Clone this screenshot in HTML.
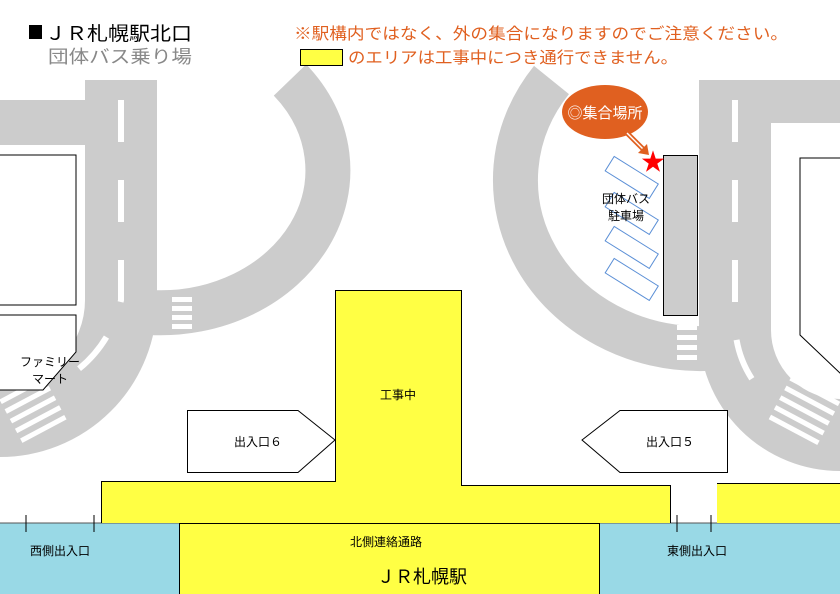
<!DOCTYPE html>
<html><head><meta charset="utf-8"><style>
html,body{margin:0;padding:0;background:#fff}
svg{display:block}
text{font-family:"Liberation Sans","Noto Sans CJK JP",sans-serif}
</style></head><body>
<svg width="840" height="594" viewBox="0 0 840 594" xmlns="http://www.w3.org/2000/svg">
<rect width="840" height="594" fill="#fff"/>
<!-- roads -->
<g fill="none" stroke="#cccccc">
  <rect x="0" y="100" width="90" height="45" fill="#ccc" stroke="none"/>
  <path d="M121,80 V300 A121,121 0 0 1 0,421" stroke-width="72"/>
  <path d="M290,80 A167.5,142.5 0 0 1 150,312.5" stroke-width="45"/>
  <path d="M551.5,80 A184.5,168.5 0 0 0 705,348.5" stroke-width="45"/>
  <rect x="771" y="80" width="69" height="43" fill="#ccc" stroke="none"/>
  <path d="M735,80 V330 A105,105 0 0 0 840,435" stroke-width="72"/>
</g>
<!-- dashes -->
<g stroke="#fff" stroke-width="6" fill="none">
  <path d="M121,80 V300 A121,121 0 0 1 40,390" stroke-dasharray="42,38" stroke-dashoffset="-20"/>
  <path d="M735,80 V320 A105,105 0 0 0 770,400" stroke-dasharray="42,38" stroke-dashoffset="-20"/>
</g>
<!-- crosswalks -->
<g fill="#fff">
  <rect x="172" y="297" width="20" height="5"/><rect x="172" y="306" width="20" height="5"/><rect x="172" y="315" width="20" height="5"/><rect x="172" y="324" width="20" height="5"/>
  <rect x="677" y="325" width="20" height="5"/><rect x="677" y="335" width="20" height="5"/><rect x="677" y="345" width="20" height="5"/><rect x="677" y="355" width="20" height="5"/>
  <g transform="rotate(-28 45 415)"><rect x="12" y="380" width="50" height="5"/><rect x="12" y="391" width="50" height="5"/><rect x="12" y="402" width="50" height="5"/><rect x="12" y="413" width="50" height="5"/><rect x="12" y="424" width="50" height="5"/></g>
  <g transform="rotate(28 800 420)"><rect x="772" y="385" width="55" height="5"/><rect x="772" y="396" width="55" height="5"/><rect x="772" y="407" width="55" height="5"/><rect x="772" y="418" width="55" height="5"/><rect x="772" y="429" width="55" height="5"/></g>
</g>
<!-- buildings -->
<rect x="-2" y="155" width="78" height="150" fill="#fff" stroke="#000" stroke-width="1"/>
<path d="M-2,315 H76 V352 L43,390 H-2 Z" fill="#fff" stroke="#000" stroke-width="1"/>
<text x="50" y="366" font-size="12" text-anchor="middle">ファミリー</text>
<text x="50" y="383" font-size="12" text-anchor="middle">マート</text>
<path d="M842,158 H800 V335 L842,375" fill="#fff" stroke="#000" stroke-width="1"/>
<!-- bus stop -->
<rect x="663.5" y="155.5" width="34" height="160" fill="#ccc" stroke="#000" stroke-width="1"/>
<g fill="none" stroke="#5b8fd6" stroke-width="1">
  <g transform="rotate(32 632 177)"><rect x="606" y="169" width="52" height="17"/></g>
  <g transform="rotate(32 632 213)"><rect x="606" y="205" width="52" height="17"/></g>
  <g transform="rotate(32 632 247)"><rect x="606" y="239" width="52" height="17"/></g>
  <g transform="rotate(32 632 279)"><rect x="606" y="271" width="52" height="17"/></g>
</g>
<text x="626" y="203" font-size="12" text-anchor="middle">団体バス</text>
<text x="626" y="220" font-size="12" text-anchor="middle">駐車場</text>
<ellipse cx="605" cy="112" rx="43" ry="27" fill="#e06020"/>
<text x="605" y="118" font-size="15" fill="#fff" text-anchor="middle">◎集合場所</text>
<path d="M627,133 L645,151" stroke="#e06020" stroke-width="5"/>
<path d="M627,133 L645,151" stroke="#fff" stroke-width="1.5"/>
<path d="M638,153 L649,155 L647,144 Z" fill="#e06020"/>
<text x="653" y="170" font-size="24" fill="#f00" text-anchor="middle">★</text>
<!-- station -->
<rect x="0" y="523" width="840" height="71" fill="#99d9e6"/>
<line x1="0" y1="523" x2="840" y2="523" stroke="#555" stroke-width="1"/>
<path d="M101.5,523 V481.5 H335.5 V290.5 H461.5 V485.5 H670.5 V523" fill="#ffff44" stroke="#000" stroke-width="1"/>
<path d="M842,483.5 H717.5 V523" fill="#ffff44" stroke="#000" stroke-width="1"/>
<rect x="717" y="484" width="123" height="39" fill="#ffff44"/>
<rect x="179.5" y="523.5" width="420" height="72" fill="#ffff44" stroke="#000" stroke-width="1"/>
<text x="398" y="399" font-size="12" text-anchor="middle">工事中</text>
<text x="386" y="546" font-size="12" text-anchor="middle">北側連絡通路</text>
<text x="422" y="583" font-size="18" text-anchor="middle">ＪＲ札幌駅</text>
<g stroke="#000" stroke-width="1"><line x1="26" y1="515" x2="26" y2="532"/><line x1="94" y1="515" x2="94" y2="532"/><line x1="677" y1="515" x2="677" y2="532"/><line x1="711" y1="515" x2="711" y2="532"/></g>
<text x="60" y="555" font-size="12" text-anchor="middle">西側出入口</text>
<text x="697" y="555" font-size="12" text-anchor="middle">東側出入口</text>
<!-- exits -->
<path d="M187.5,410.5 H298 L335,440 L298,472.5 H187.5 Z" fill="#fff" stroke="#000" stroke-width="1"/>
<text x="258" y="446" font-size="12" text-anchor="middle">出入口６</text>
<path d="M620,410.5 H727.5 V472.5 H620 L582,440 Z" fill="#fff" stroke="#000" stroke-width="1"/>
<text x="670" y="446" font-size="12" text-anchor="middle">出入口５</text>
<!-- header -->
<rect x="29" y="25" width="13" height="14" fill="#000"/>
<text x="45" y="40" font-size="19" textLength="147" lengthAdjust="spacingAndGlyphs">ＪＲ札幌駅北口</text>
<text x="48" y="63" font-size="18" fill="#888" textLength="144" lengthAdjust="spacingAndGlyphs">団体バス乗り場</text>
<text x="294" y="39" font-size="16" fill="#e06020" textLength="494" lengthAdjust="spacingAndGlyphs">※駅構内ではなく、外の集合になりますのでご注意ください。</text>
<rect x="300.5" y="49.5" width="42" height="16" fill="#ffff44" stroke="#000" stroke-width="1"/>
<text x="348" y="63" font-size="16" fill="#e06020" textLength="330" lengthAdjust="spacingAndGlyphs">のエリアは工事中につき通行できません。</text>
</svg>
</body></html>
